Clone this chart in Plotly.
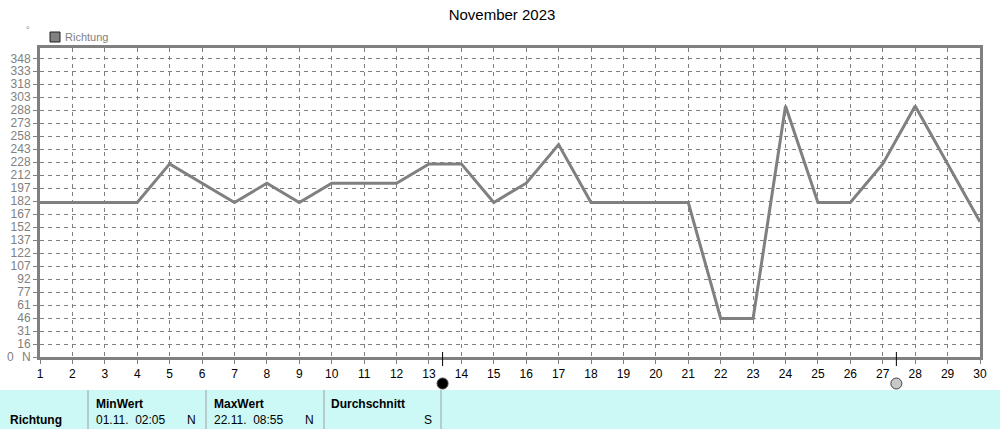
import plotly.graph_objects as go

days = list(range(1, 31))
richtung = [180, 180, 180, 180, 225, 202.5, 180, 202.5, 180, 202.5,
            202.5, 202.5, 225, 225, 180, 202.5, 247.5, 180, 180, 180,
            180, 45, 45, 292.5, 180, 180, 225, 292.5, 225, 157.5]
ytick_labels = ["N", "16", "31", "46", "61", "77", "92", "107", "122", "137", "152", "167",
                "182", "197", "212", "228", "243", "258", "273", "288", "303", "318", "333", "348"]
ytick_vals = [i * 348 / 23 for i in range(24)]
moon_x = [13.42, 27.42]
moon_fill = ["black", "#c8c8c8"]

W, H = 1000, 429
L, R, T, B = 40, 980, 48, 357
def px(x):
    return (x - L) / (R - L)
def py(y):
    return (B - y) / (B - T)

FONT = "Liberation Sans, Arial, sans-serif"
GRAY = "#808080"

fig = go.Figure()
fig.add_trace(go.Scatter(x=days, y=richtung, mode="lines", name="Richtung",
                         line=dict(color=GRAY, width=3), showlegend=False,
                         hoverinfo="x+y"))

fig.update_layout(
    width=W, height=H,
    margin=dict(l=L, r=W - R, t=T, b=H - B, pad=0),
    paper_bgcolor="white", plot_bgcolor="white",
    font=dict(family=FONT, size=12, color="black"),
    title=dict(text="November 2023", x=0.502, xanchor="center", y=1 - 15 / H, yanchor="middle",
               font=dict(family=FONT, size=15, color="black")),
    showlegend=False,
)
fig.update_xaxes(range=[1, 30], tickvals=days, ticktext=[str(d) for d in days],
                 showgrid=True, gridcolor=GRAY, gridwidth=1, griddash="4px,4px",
                 showline=True, linecolor=GRAY, linewidth=3, mirror=True,
                 ticks="outside", ticklen=4, tickcolor=GRAY, zeroline=False,
                 tickfont=dict(family=FONT, size=12, color="black"))
fig.update_yaxes(range=[0, 360], tickvals=ytick_vals, ticktext=ytick_labels,
                 showgrid=True, gridcolor=GRAY, gridwidth=1, griddash="4px,4px",
                 showline=True, linecolor=GRAY, linewidth=3, mirror=True,
                 ticks="outside", ticklen=4, tickcolor=GRAY, zeroline=False,
                 tickfont=dict(family=FONT, size=12, color=GRAY))

shapes = []
annotations = []
# legend
shapes.append(dict(type="rect", xref="paper", yref="paper",
                   x0=px(50), x1=px(60), y0=py(42), y1=py(32),
                   fillcolor=GRAY, line=dict(color="#202020", width=1)))
annotations.append(dict(text="Richtung", xref="paper", yref="paper", x=px(63), y=py(37),
                        xanchor="left", yanchor="middle", showarrow=False,
                        font=dict(family=FONT, size=11, color=GRAY)))
annotations.append(dict(text="°", xref="paper", yref="paper", x=px(28), y=py(30),
                        xanchor="center", yanchor="middle", showarrow=False,
                        font=dict(family=FONT, size=9, color=GRAY)))
annotations.append(dict(text="0", xref="paper", yref="paper", x=px(10), y=py(357),
                        xanchor="center", yanchor="middle", showarrow=False,
                        font=dict(family=FONT, size=12, color=GRAY)))

# moon markers
for mx, mf in zip(moon_x, moon_fill):
    shapes.append(dict(type="line", xref="x", yref="paper", x0=mx, x1=mx,
                       y0=py(352), y1=py(366), line=dict(color="black", width=1)))
    shapes.append(dict(type="circle", xref="x", yref="paper",
                       x0=mx - 5.5 / 32.41, x1=mx + 5.5 / 32.41, y0=py(389), y1=py(378),
                       fillcolor=mf, line=dict(color="#404040", width=1)))

# bottom table
shapes.append(dict(type="rect", xref="paper", yref="paper", layer="below",
                   x0=px(0), x1=px(1000), y0=py(429), y1=py(390),
                   fillcolor="#ccf8f6", line=dict(width=0)))
for sx in [88, 206, 324, 441]:
    shapes.append(dict(type="line", xref="paper", yref="paper",
                       x0=px(sx), x1=px(sx), y0=py(429), y1=py(390),
                       line=dict(color="#a0a0a0", width=1)))

def txt(t, x, y, bold=False, anchor="left"):
    annotations.append(dict(text=f"<b>{t}</b>" if bold else t, xref="paper", yref="paper",
                            x=px(x), y=py(y), xanchor=anchor, yanchor="middle",
                            showarrow=False, font=dict(family=FONT, size=12, color="black")))

txt("Richtung", 8, 420, bold=True)
txt("MinWert", 94, 404, bold=True)
txt("01.11.  02:05", 94, 420)
txt("N", 198, 420, anchor="right")
txt("MaxWert", 212, 404, bold=True)
txt("22.11.  08:55", 212, 420)
txt("N", 316, 420, anchor="right")
txt("Durchschnitt", 329, 404, bold=True)
txt("S", 434, 420, anchor="right")

fig.update_layout(shapes=shapes, annotations=annotations)
fig.write_html("out.html", config={"displayModeBar": False},
               post_script="document.body.style.margin='0';document.body.style.overflow='hidden';")
